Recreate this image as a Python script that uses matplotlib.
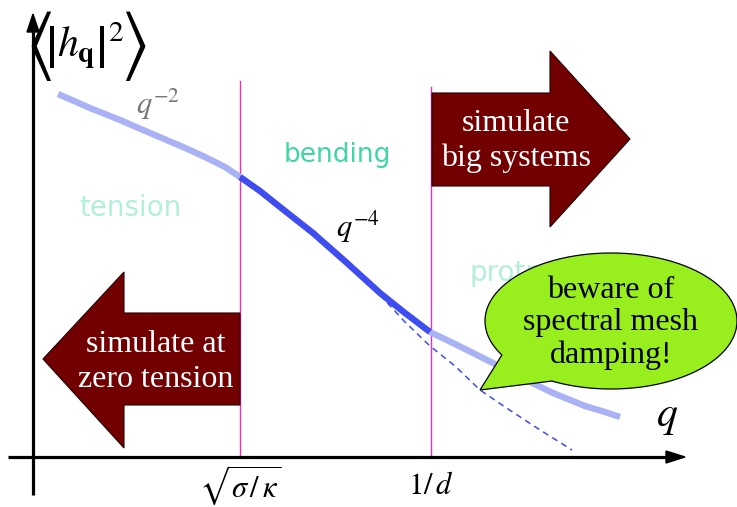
import numpy as np
import matplotlib
matplotlib.use("Agg")
import matplotlib.pyplot as plt
from matplotlib.patches import Polygon

plt.rcParams['mathtext.fontset'] = 'stix'
plt.rcParams['font.family'] = ['Liberation Serif', 'DejaVu Serif']

# ---- data (schematic, in picture units: q to the right, <|h|^2> drawn downward) ----
curve_q = [58, 90, 120, 150, 183, 205, 225, 240, 260, 280, 313, 347, 380, 405, 430, 453, 487, 520, 553, 585, 605, 620]
curve_h = [94, 108, 120, 133, 147, 157, 167, 177, 191, 207, 233, 263, 293, 313, 332, 343, 360, 377, 393, 406, 412, 417]
dash_q = [380, 405, 430, 455, 480, 505, 537, 572]
dash_h = [295, 322, 346, 366, 390, 407, 428, 450]
boundaries = [240, 431]                     # sqrt(sigma/kappa), 1/d
tick_labels = [r'$\sqrt{\sigma\,/\,\kappa}$', r'$1/\,d$']
region_labels = ['tension', 'bending', 'protrusion']
bubble_text = 'beware of\nspectral mesh\ndamping!'
left_arrow_text = 'simulate at\nzero tension'
right_arrow_text = 'simulate\nbig systems'

W, H = 737, 507
fig = plt.figure(figsize=(W / 100, H / 100), dpi=100)
ax = fig.add_axes([0, 0, 1, 1])
ax.set_xlim(0, W)
ax.set_ylim(H, 0)
ax.axis('off')

# axes with arrows
x0, y0 = 33, 457
ax.plot([x0, x0], [495, 30], color='black', lw=2.3, solid_capstyle='butt', zorder=3)
ax.add_patch(Polygon([[x0 - 6, 32], [x0 + 6, 32], [x0, 14]], closed=True, color='black', zorder=3))
ax.plot([8, 668], [y0, y0], color='black', lw=2.3, solid_capstyle='butt', zorder=3)
ax.add_patch(Polygon([[666, y0 - 6], [666, y0 + 6], [685, y0]], closed=True, color='black', zorder=3))

# boundary lines
ax.plot([boundaries[0]] * 2, [81, y0], color='#ee30b8', lw=1.0, zorder=2)
ax.plot([boundaries[1]] * 2, [87, y0], color='#ee30b8', lw=1.0, zorder=2)

# curve
cq = np.array(curve_q, float)
ch = np.array(curve_h, float)
light = '#aab2f6'
dark = '#3e4cf0'
m1 = cq <= boundaries[0]
m2 = (cq >= boundaries[0]) & (cq <= boundaries[1] + 1)
m3 = cq >= boundaries[1] - 1
for m, c, z in [(m1, light, 4), (m3, light, 4), (m2, dark, 4.5)]:
    ax.plot(cq[m], ch[m], color=c, lw=4.6, solid_capstyle='butt', solid_joinstyle='round', zorder=z)
ax.plot(dash_q, dash_h, color='#3e4cf0', lw=1.1, ls=(0, (4, 3)), zorder=4)

# region labels
ax.text(130, 208, region_labels[0], color='#b2f0da', fontsize=20, family='DejaVu Sans',
        ha='center', va='center', zorder=2)
ax.text(337, 155, region_labels[1], color='#3fd6a6', fontsize=19, family='DejaVu Sans',
        ha='center', va='center', zorder=2)
ax.text(470, 273, region_labels[2], color='#b2f0da', fontsize=20, family='DejaVu Sans',
        ha='left', va='center', zorder=2)

# power-law labels
ax.text(158, 104, r'$q^{-2}$', color='#777777', fontsize=22, ha='center', va='center', zorder=5)
ax.text(358, 227, r'$q^{-4}$', color='black', fontsize=22, ha='center', va='center', zorder=5)
ax.text(667, 418, r'$q$', color='black', fontsize=30, ha='center', va='center', zorder=5)

# y label  < |h_q|^2 >
ax.text(39, 46, r'$\langle$', fontsize=54, ha='center', va='center', zorder=5)
ax.text(85, 46, r'$\left|h_{\mathbf{q}}\right|^{2}$', fontsize=30, ha='center', va='center', zorder=5)
ax.text(133, 46, r'$\rangle$', fontsize=54, ha='center', va='center', zorder=5)

# tick labels
ax.text(boundaries[0], 485, tick_labels[0], fontsize=22, ha='center', va='center', zorder=5)
ax.text(boundaries[1], 486, tick_labels[1], fontsize=22, ha='center', va='center', zorder=5)

# left arrow
b0 = boundaries[0]
left_poly = [[43, 359], [124, 272], [124, 313], [b0, 313], [b0, 405], [124, 405], [124, 448]]
ax.add_patch(Polygon(left_poly, closed=True, facecolor='#730000', edgecolor='#220000', lw=0.8, zorder=6))
ax.text(156, 362, left_arrow_text, color='white', fontsize=23, ha='center', va='center',
        linespacing=1.25, zorder=7)

# right arrow
b1 = boundaries[1] + 1
right_poly = [[b1, 93], [550, 93], [550, 51], [630, 139], [550, 227], [550, 186], [b1, 186]]
ax.add_patch(Polygon(right_poly, closed=True, facecolor='#730000', edgecolor='#220000', lw=0.8, zorder=6))
ax.text(516, 141, right_arrow_text, color='white', fontsize=23, ha='center', va='center',
        linespacing=1.25, zorder=7)

# speech bubble
cx, cy, a, b = 611, 321, 126, 68
t = np.deg2rad(np.linspace(150, 118 + 360, 300))
pts = [[480, 390]] + [[cx + a * np.cos(tt), cy + b * np.sin(tt)] for tt in t]
ax.add_patch(Polygon(pts, closed=True, facecolor='#99ee1e', edgecolor='black', lw=0.9, zorder=8))
ax.text(cx, 323, bubble_text, color='black', fontsize=23, ha='center', va='center',
        linespacing=1.15, zorder=9)

fig.savefig('out.png', dpi=100)
